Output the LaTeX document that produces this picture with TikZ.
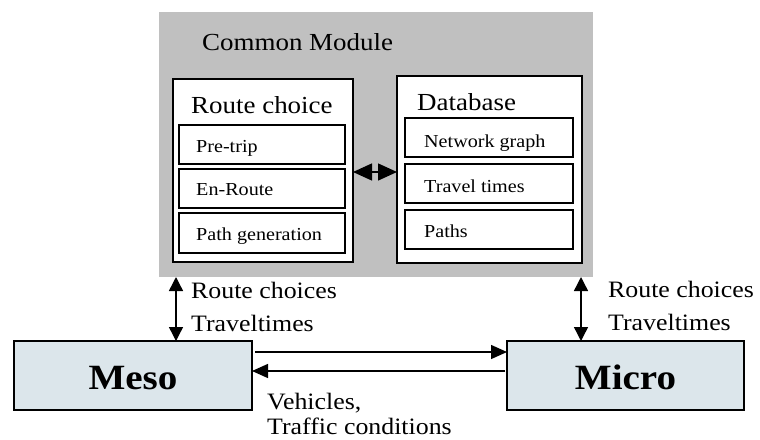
\documentclass[tikz,border=0pt]{standalone}
\usepackage{fontspec}
\setmainfont{Liberation Serif}[FakeStretch=1.1]
\usetikzlibrary{arrows.meta}
\definecolor{modgray}{RGB}{192,192,192}
\definecolor{simblue}{RGB}{220,230,235}
\begin{document}
\begin{tikzpicture}[x=1pt,y=-1pt,
  box/.style={draw=black, line width=1.3pt, fill=white, rectangle, inner sep=0pt, outer sep=0pt},
  simbox/.style={box, fill=simblue},
  lbl/.style={anchor=base west, inner sep=0pt},
  big/.style={font=\fontsize{24.5}{28}\selectfont},
  mid/.style={font=\fontsize{23.5}{28}\selectfont},
  small/.style={font=\fontsize{18.3}{22}\selectfont},
  huge/.style={font=\fontsize{35.5}{40}\selectfont\bfseries},
  arr/.style={line width=1.4pt, -{Triangle[length=16pt,width=14pt]}},
  darr/.style={line width=1.4pt, {Triangle[length=14pt,width=14pt]}-{Triangle[length=14pt,width=14pt]}},
  bigdarr/.style={line width=1.4pt, {Triangle[length=19pt,width=17pt]}-{Triangle[length=19pt,width=17pt]}}
]
\fill[white] (0,0) rectangle (760,439);
\useasboundingbox (0,0) rectangle (760,439);

% common module
\node[rectangle, fill=modgray, inner sep=0pt, minimum width=434pt, minimum height=265pt] (common) at (376,144.5) {};
\node[lbl, big] (commontxt) at (202,50) {Common Module};

% route choice
\node[box, minimum width=180pt, minimum height=183pt] (rc) at (263,170.5) {};
\node[lbl, big] (rctxt) at (191,113) {Route choice};
\node[box, minimum width=166pt, minimum height=39pt] (pre) at (262,144.5) {};
\node[box, minimum width=166pt, minimum height=39pt] (en) at (262,188.5) {};
\node[box, minimum width=166pt, minimum height=40pt] (pg) at (262,233) {};
\node[lbl, small] (pretxt) at (196,152) {Pre-trip};
\node[lbl, small] (entxt) at (196,195) {En-Route};
\node[lbl, small] (pgtxt) at (196,240) {Path generation};

% database
\node[box, minimum width=185pt, minimum height=187pt] (db) at (489.5,169.5) {};
\node[lbl, big] (dbtxt) at (417,110) {Database};
\node[box, minimum width=168pt, minimum height=39pt] (ng) at (489,137.5) {};
\node[box, minimum width=168pt, minimum height=39pt] (tt) at (489,183.5) {};
\node[box, minimum width=168pt, minimum height=39pt] (pa) at (489,229.5) {};
\node[lbl, small] (ngtxt) at (424,147) {Network graph};
\node[lbl, small] (tttxt) at (424,192) {Travel times};
\node[lbl, small] (patxt) at (424,237) {Paths};

\draw[bigdarr] (rc.east |- 0,172) -- (db.west |- 0,172);

% meso / micro
\node[simbox, minimum width=238pt, minimum height=69pt] (meso) at (133,375.5) {};
\node[simbox, minimum width=237pt, minimum height=69pt] (micro) at (625.5,375.5) {};
\node[huge, anchor=base, inner sep=0pt] (mesotxt) at (133,389) {Meso};
\node[huge, anchor=base, inner sep=0pt] (microtxt) at (625.5,389) {Micro};

% vertical arrows
\coordinate (la) at (176,277);
\coordinate (ra) at (581,277);
\draw[darr] (la) -- (la |- meso.north);
\draw[darr] (ra) -- (ra |- micro.north);
\node[lbl, mid] (l1) at (191,298) {Route choices};
\node[lbl, mid] (l2) at (191,331) {Traveltimes};
\node[lbl, mid] (r1) at (608,297) {Route choices};
\node[lbl, mid] (r2) at (608,330) {Traveltimes};

% horizontal arrows
\draw[arr] (meso.east |- 0,352) ++(3,0) -- (micro.west |- 0,352);
\draw[arr] (micro.west |- 0,371) ++(-2,0) -- (meso.east |- 0,371);
\node[lbl, mid] (v1) at (267,409) {Vehicles,};
\node[lbl, mid] (v2) at (267,434.5) {Traffic conditions};
\end{tikzpicture}
\end{document}
